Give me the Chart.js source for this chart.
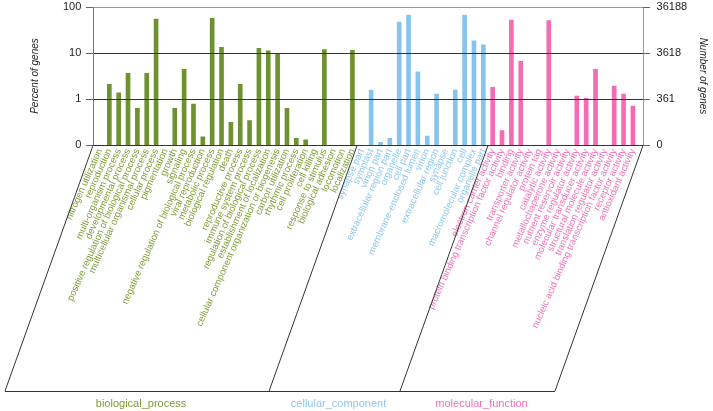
<!DOCTYPE html>
<html>
<head>
<meta charset="utf-8">
<script src="https://cdn.jsdelivr.net/npm/chart.js@4/dist/chart.umd.min.js"></script>
<style>
  html, body { margin: 0; padding: 0; background: #fff; }
</style>
</head>
<body>
<canvas id="goChart" width="713" height="411"></canvas>
<script>
// GO categories, percent of genes (null = no bar)
const bpLabels = ['nitrogen utilization', 'reproduction', 'multi-organism process', 'developmental process',
  'positive regulation of biological process', 'multicellular organismal process', 'cellular process',
  'pigmentation', 'growth', 'signaling', 'negative regulation of biological process', 'viral reproduction',
  'metabolic process', 'biological regulation', 'death', 'reproductive process', 'immune system process',
  'regulation of biological process', 'establishment of localization',
  'cellular component organization or biogenesis', 'carbon utilization', 'rhythmic process',
  'cell proliferation', 'cell killing', 'response to stimulus', 'biological adhesion', 'locomotion', 'localization'];
const bpPercent = [null, 2.09, 1.37, 3.6, 0.63, 3.6, 54.8, null, 0.63, 4.4, 0.78, 0.15, 56.8, 13.3, 0.31, 2.09,
  0.34, 12.6, 11.2, 9.8, 0.63, 0.14, 0.13, null, 11.8, null, null, 11.4];

const ccLabels = ['synapse part', 'symplast', 'virion part', 'extracellular region part', 'organelle', 'cell part',
  'membrane-enclosed lumen', 'virion', 'extracellular region', 'synapse', 'cell junction', 'cell',
  'macromolecular complex', 'organelle part'];
const ccPercent = [null, 1.57, 0.115, 0.14, 47.2, 67, 3.9, 0.157, 1.28, null, 1.57, 67, 18.5, 15.1];

const mfLabels = ['electron carrier activity', 'protein binding transcription factor activity', 'binding',
  'transporter activity', 'channel regulator activity', 'protein tag', 'catalytic activity',
  'metallochaperone activity', 'nutrient reservoir activity', 'enzyme regulator activity',
  'molecular transducer activity', 'structural molecule activity', 'translation regulator activity',
  'nucleic acid binding transcription factor activity', 'receptor activity', 'antioxidant activity'];
const mfPercent = [1.8, 0.205, 52, 6.6, null, null, 50.4, null, null, 1.16, 1.03, 4.4, null, 1.92, 1.28, 0.7];

const groupNames = ['biological_process', 'cellular_component', 'molecular_function'];
const percentTicks = [0.1, 1, 10, 100];
const percentTickText = ['0', '1', '10', '100'];
const geneTickText = ['0', '361', '3618', '36188'];

const barColors = ['#6e9230', '#87c4ec', '#f36cb4'];
const textColors = ['#7a9e34', '#8cc6ee', '#f270b8'];

const allLabels = bpLabels.concat(ccLabels, mfLabels);
const allValues = bpPercent.concat(ccPercent, mfPercent);
const groupOf = i => (i < bpLabels.length ? 0 : i < bpLabels.length + ccLabels.length ? 1 : 2);

const FONT = '"Liberation Sans", Arial, sans-serif';
const FRAME_L = 93, FRAME_R = 643, BOTTOM_Y = 391, SLANT = 88;

const framePlugin = {
  id: 'frame',
  afterDatasetsDraw(chart) {
    const { ctx, scales: { x, y } } = chart;
    const px = v => Math.round(y.getPixelForValue(v)) + 0.5;
    const yTop = px(100), yBot = px(0.1);
    ctx.save();
    ctx.lineWidth = 1;
    const line = (x0, y0, x1, y1, c) => {
      ctx.strokeStyle = c;
      ctx.beginPath(); ctx.moveTo(x0, y0); ctx.lineTo(x1, y1); ctx.stroke();
    };
    line(FRAME_L, yTop, FRAME_R, yTop, '#9a9a9a');
    [1, 10].forEach(v => line(FRAME_L, px(v), FRAME_R, px(v), '#333'));
    line(FRAME_L + 0.5, yTop, FRAME_L + 0.5, yBot, '#777');
    line(FRAME_R + 0.5, yTop, FRAME_R + 0.5, yBot, '#999');
    percentTicks.forEach(v => {
      line(FRAME_L - 7, px(v), FRAME_L, px(v), '#666');
      line(FRAME_R, px(v), FRAME_R + 7, px(v), '#666');
    });
    line(FRAME_L, yBot, FRAME_R, yBot, '#333');

    // group parallelograms under the axis
    const nb = bpLabels.length, nc = ccLabels.length;
    const mid = i => (x.getPixelForValue(i) + x.getPixelForValue(i + 1)) / 2;
    const tops = [FRAME_L, mid(nb - 1), mid(nb + nc - 1), FRAME_R];
    tops.forEach(t => line(t, yBot, t - SLANT, BOTTOM_Y, '#333'));
    line(tops[0] - SLANT, BOTTOM_Y + 0.5, tops[3] - SLANT, BOTTOM_Y + 0.5, '#333');

    ctx.font = '11px ' + FONT;
    ctx.textAlign = 'center';
    ctx.textBaseline = 'middle';
    groupNames.forEach((g, i) => {
      ctx.fillStyle = textColors[i];
      ctx.fillText(g, (tops[i] + tops[i + 1]) / 2 - SLANT + 4, 404);
    });
    ctx.restore();
  }
};

// invisible tick marks just push the tick labels away from the plot
const hiddenGrid = len => ({ display: true, drawOnChartArea: false, drawTicks: true, tickLength: len, color: 'rgba(0,0,0,0)' });

new Chart(document.getElementById('goChart'), {
  type: 'bar',
  data: {
    labels: allLabels,
    datasets: [{
      data: allValues,
      backgroundColor: allValues.map((v, i) => barColors[groupOf(i)]),
      barThickness: 4
    }]
  },
  options: {
    responsive: false,
    animation: false,
    layout: { padding: { top: 7, left: 0, right: 0, bottom: 0 } },
    plugins: { legend: { display: false }, tooltip: { enabled: false } },
    scales: {
      x: {
        type: 'category',
        offset: true,
        grid: { display: false, drawTicks: false },
        border: { display: false },
        ticks: {
          autoSkip: false,
          minRotation: 66,
          maxRotation: 66,
          padding: 2,
          font: { size: 9.5, family: FONT },
          color: ctx => textColors[groupOf(ctx.index)]
        },
        afterFit: s => { s.height = 266; }
      },
      y: {
        type: 'logarithmic',
        position: 'left',
        min: 0.1,
        max: 100,
        afterBuildTicks: s => { s.ticks = percentTicks.map(v => ({ value: v })); },
        grid: hiddenGrid(14),
        border: { display: false },
        ticks: {
          padding: 0,
          font: { size: 11, family: FONT },
          color: '#222',
          callback: v => percentTickText[percentTicks.indexOf(v)]
        },
        title: {
          display: true,
          text: 'Percent of genes',
          color: '#222',
          font: { size: 10, style: 'italic', family: FONT },
          padding: { top: 29, bottom: 0 }
        },
        afterFit: s => { s.width = 95.3; }
      },
      y2: {
        type: 'logarithmic',
        position: 'right',
        min: 0.1,
        max: 100,
        afterBuildTicks: s => { s.ticks = percentTicks.map(v => ({ value: v })); },
        grid: hiddenGrid(19),
        border: { display: false },
        ticks: {
          padding: 0,
          font: { size: 11, family: FONT },
          color: '#222',
          callback: v => geneTickText[percentTicks.indexOf(v)]
        },
        title: {
          display: true,
          text: 'Number of genes',
          color: '#222',
          font: { size: 10, style: 'italic', family: FONT },
          padding: { top: 4, bottom: 0 }
        },
        afterFit: s => { s.width = 75.4; }
      }
    }
  },
  plugins: [framePlugin]
});
</script>
</body>
</html>
